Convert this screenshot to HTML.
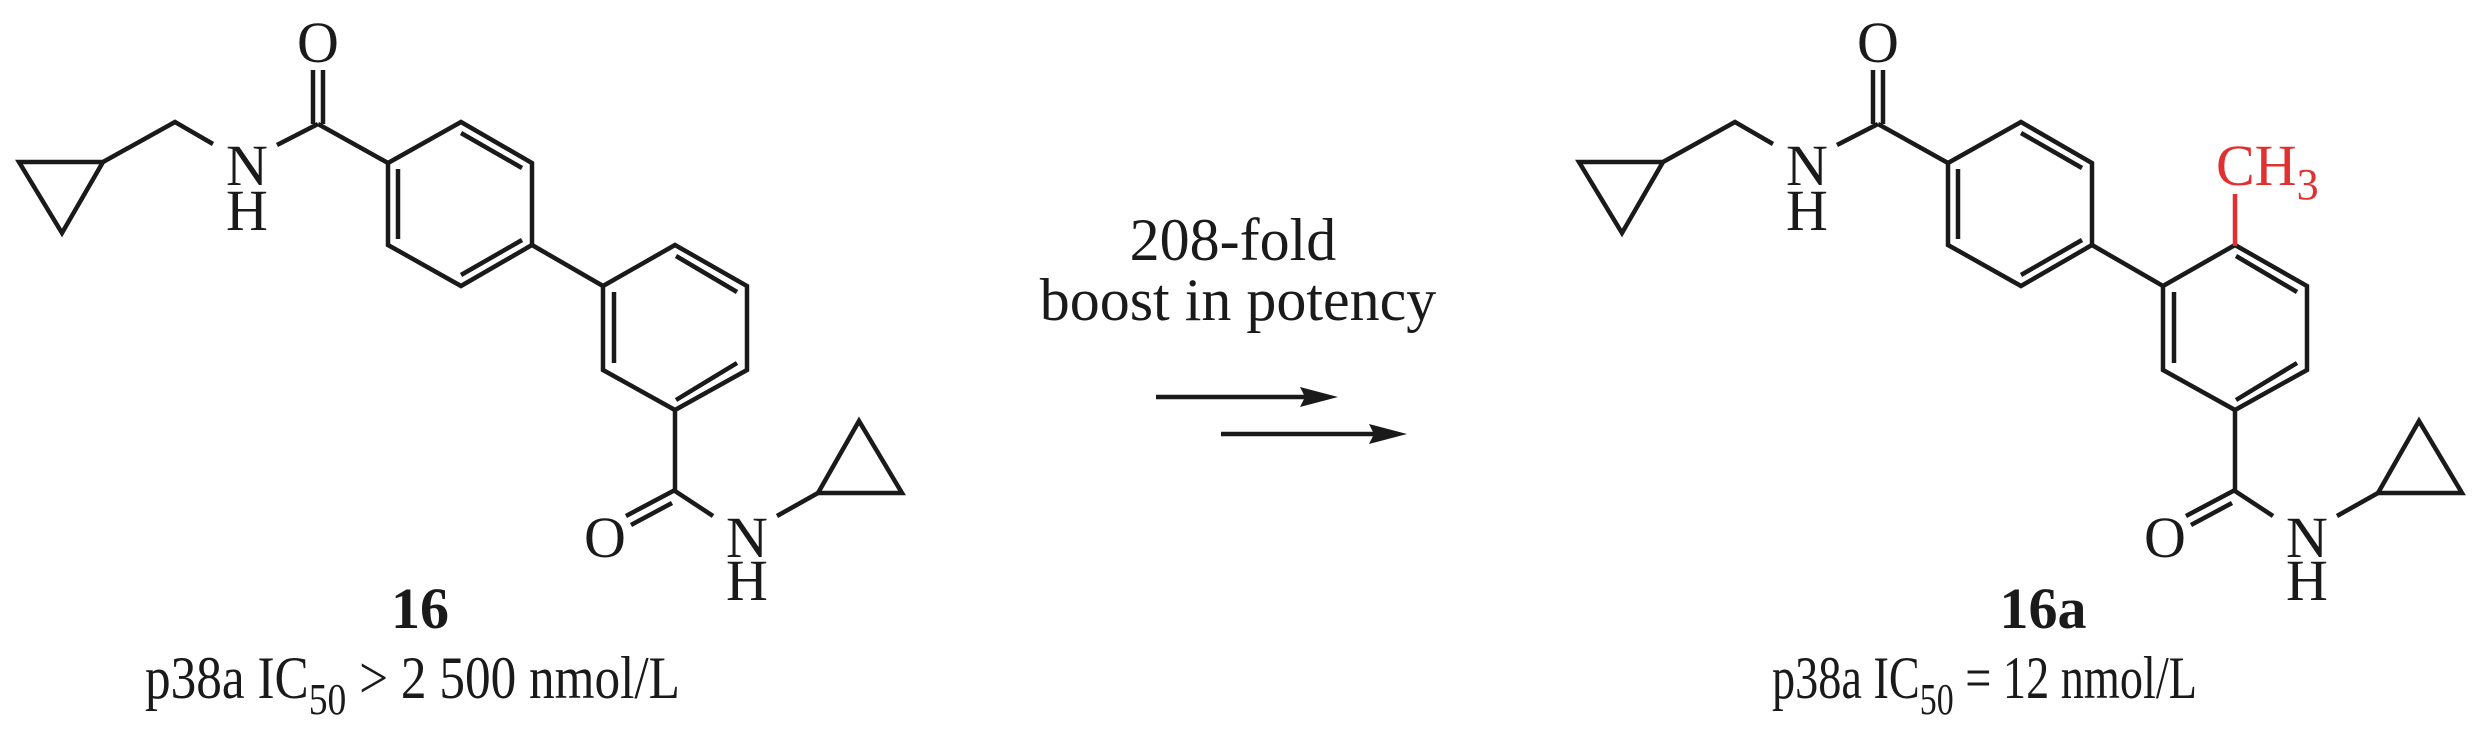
<!DOCTYPE html>
<html><head><meta charset="utf-8"><style>html,body{margin:0;padding:0;background:#fff}svg{display:block}</style></head>
<body>
<svg width="2481" height="735" viewBox="0 0 2481 735" xmlns="http://www.w3.org/2000/svg" font-family="'Liberation Serif', serif" fill="#1a1a1a">
<defs>
<g id="core" stroke="#1a1a1a" stroke-width="4.5" fill="none" stroke-linejoin="miter" stroke-linecap="butt">
  <polygon points="19,162 103,162 62,233"/>
  <polyline points="103,162 175,122 213,144"/>
  <line x1="277" y1="145" x2="318" y2="124"/>
  <line x1="313" y1="124" x2="313" y2="70"/>
  <line x1="323" y1="124" x2="323" y2="70"/>
  <line x1="318" y1="124" x2="388" y2="163"/>
  <polygon points="388,163 461,122 532,163 532,245 461,286 388,245"/>
  <line x1="398" y1="169" x2="398" y2="239"/>
  <line x1="461" y1="133" x2="522" y2="168"/>
  <line x1="461" y1="275" x2="522" y2="240"/>
  <line x1="532" y1="245" x2="603" y2="286"/>
  <polygon points="603,286 675,245 747,286 747,370 675,410 603,370"/>
  <line x1="614" y1="292" x2="614" y2="363"/>
  <line x1="676" y1="256" x2="737" y2="292"/>
  <line x1="676" y1="400" x2="737" y2="363"/>
  <line x1="675" y1="410" x2="675" y2="491"/>
  <line x1="626" y1="516" x2="675" y2="490"/>
  <line x1="631" y1="525" x2="672" y2="503"/>
  <line x1="675" y1="491" x2="713" y2="516"/>
  <line x1="777" y1="516" x2="818" y2="493"/>
  <polygon points="818,493 859,421 902,493"/>
</g>
<g id="lbl" font-size="58" text-anchor="middle" stroke="none" fill="#1a1a1a">
  <text x="247" y="185">N</text>
  <text x="247" y="230">H</text>
  <text x="318" y="62">O</text>
  <text x="605" y="557">O</text>
  <text x="747" y="557">N</text>
  <text x="747" y="600">H</text>
</g>
</defs>

<use href="#core"/>
<use href="#lbl"/>
<text x="420" y="628" font-size="58" font-weight="bold" text-anchor="middle">16</text>
<text x="145" y="698" font-size="60" textLength="535" lengthAdjust="spacingAndGlyphs">p38a IC<tspan font-size="44" dy="16">50</tspan><tspan dy="-16"> &gt; 2 500 nmol/L</tspan></text>

<text x="1233" y="260" font-size="60" text-anchor="middle">208-fold</text>
<text x="1238" y="320" font-size="60" text-anchor="middle">boost in potency</text>
<line x1="1156" y1="397" x2="1308" y2="397" stroke="#1a1a1a" stroke-width="4.5"/>
<polygon points="1300,387 1338,397 1300,407 1305,397" fill="#1a1a1a"/>
<line x1="1221" y1="434" x2="1376" y2="434" stroke="#1a1a1a" stroke-width="4.5"/>
<polygon points="1369,424 1407,434 1369,444 1374,434" fill="#1a1a1a"/>

<g transform="translate(1560,0)">
  <use href="#core"/>
  <use href="#lbl"/>
  <line x1="675" y1="246" x2="675" y2="194" stroke="#e03030" stroke-width="4.5"/>
  <text x="656" y="185" font-size="58" fill="#e03030">CH<tspan font-size="44" dy="14">3</tspan></text>
  <text x="483" y="628" font-size="58" font-weight="bold" text-anchor="middle">16a</text>
  <text x="212" y="698" font-size="60" textLength="425" lengthAdjust="spacingAndGlyphs">p38a IC<tspan font-size="44" dy="16">50</tspan><tspan dy="-16"> = 12 nmol/L</tspan></text>
</g>
</svg>
</body></html>
